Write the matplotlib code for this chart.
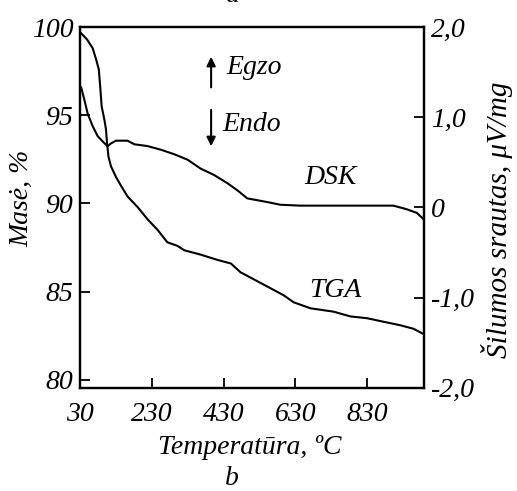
import numpy as np
import matplotlib
matplotlib.use("Agg")
import matplotlib.pyplot as plt

plt.rcParams["font.family"] = ["Liberation Serif", "DejaVu Serif"]
plt.rcParams["font.style"] = "italic"
plt.rcParams["font.size"] = 20

# TGA curve: temperature (C) vs mass (%)
tga_t = [33, 49, 65, 74, 82, 86, 90, 98, 102, 105, 109, 116, 130, 144, 162, 190,
         218, 246, 273, 301, 320, 366, 413, 450, 477, 514, 551, 597, 625, 672,
         736, 783, 829, 875, 922, 959, 987]
tga_mass = [99.64, 99.3, 98.8, 98.2, 97.6, 96.6, 95.5, 94.7, 94.2, 93.4, 92.65,
            92.1, 91.5, 91.0, 90.4, 89.8, 89.1, 88.5, 87.8, 87.6, 87.35, 87.1,
            86.8, 86.6, 86.1, 85.7, 85.3, 84.8, 84.4, 84.06, 83.87, 83.6, 83.5,
            83.3, 83.1, 82.9, 82.6]

# DSK curve: temperature (C) vs heat flow (uV/mg)
dsk_t = [33, 42, 51, 65, 79, 98, 107, 116, 130, 144, 162, 181, 218, 255, 292,
         329, 366, 403, 440, 468, 496, 524, 551, 588, 644, 736, 903, 940, 968, 987]
dsk_flow = [1.33, 1.19, 1.04, 0.90, 0.79, 0.71, 0.68, 0.71, 0.74, 0.74, 0.74,
            0.70, 0.68, 0.64, 0.59, 0.53, 0.43, 0.36, 0.27, 0.19, 0.10, 0.08,
            0.06, 0.03, 0.02, 0.02, 0.02, -0.02, -0.06, -0.13]

x_ticks = [30, 230, 430, 630, 830]
mass_ticks = [80, 85, 90, 95, 100]
flow_ticks = [-2.0, -1.0, 0.0, 1.0, 2.0]
flow_tick_labels = ["-2,0", "-1,0", "0", "1,0", "2,0"]

fig = plt.figure(figsize=(5.17, 4.91), dpi=100)
ax = fig.add_axes([0.155, 0.210, 0.665, 0.735])
ax2 = ax.twinx()

ax.plot(tga_t, tga_mass, color="black", lw=1.5)
ax2.plot(dsk_t, dsk_flow, color="black", lw=1.5)

ax.set_xlim(30, 988)
ax.set_ylim(79.55, 100)
ax2.set_ylim(-2.0, 2.0)

ax.set_xticks(x_ticks)
ax.set_xticklabels([str(v) for v in x_ticks])
ax.set_yticks(mass_ticks)
ax.set_yticklabels([str(v) for v in mass_ticks])
ax2.set_yticks(flow_ticks)
ax2.set_yticklabels(flow_tick_labels)

ax.tick_params(axis="x", direction="in", length=7, width=1.3, pad=10,
               top=False, labelsize=20)
ax.tick_params(axis="y", direction="in", length=7, width=1.3, pad=5,
               right=False, labelsize=20)
ax2.tick_params(axis="y", direction="in", length=7, width=1.3, pad=5,
                labelsize=20)

for a in (ax, ax2):
    for s in a.spines.values():
        s.set_linewidth(1.6)

ax.set_xlabel("Temperatūra, ºC", fontsize=20, va="center")
ax.xaxis.set_label_coords(0.494, -0.165)
ax.set_ylabel("Masė, %", fontsize=20, va="center")
ax.yaxis.set_label_coords(-0.169, 0.526)
ax2.set_ylabel("Šilumos srautas, μV/mg", fontsize=21, va="center", rotation=90)
ax2.yaxis.set_label_coords(1.212, 0.465)

# Egzo / Endo arrows
ax.annotate("", xy=(0.381, 0.925), xytext=(0.381, 0.825), xycoords="axes fraction",
            arrowprops=dict(arrowstyle="-|>", color="black", lw=1.5,
                            mutation_scale=13))
ax.annotate("", xy=(0.381, 0.662), xytext=(0.381, 0.778), xycoords="axes fraction",
            arrowprops=dict(arrowstyle="-|>", color="black", lw=1.5,
                            mutation_scale=13))
ax.text(0.425, 0.889, "Egzo", transform=ax.transAxes, fontsize=20, va="center")
ax.text(0.414, 0.729, "Endo", transform=ax.transAxes, fontsize=20, va="center")
ax.text(0.652, 0.582, "DSK", transform=ax.transAxes, fontsize=20, va="center")
ax.text(0.667, 0.271, "TGA", transform=ax.transAxes, fontsize=20, va="center")

fig.text(0.449, 1.01, "a", fontsize=20, ha="center", va="center")
fig.text(0.449, 0.026, "b", fontsize=20, ha="center", va="center")

fig.savefig("out.png", dpi=100)
